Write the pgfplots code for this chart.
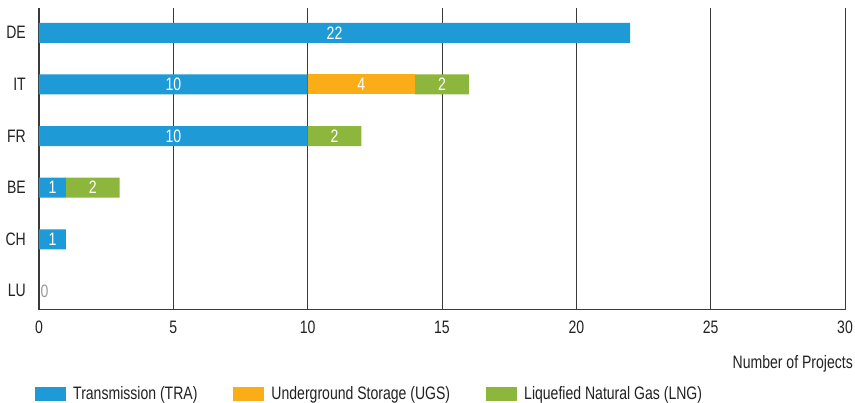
\documentclass[border=0pt]{standalone}
\usepackage{fontspec}
\setmainfont{Liberation Sans}[FakeStretch=0.78]
\usepackage{pgfplots}
\pgfplotsset{compat=1.18}

\definecolor{tra}{HTML}{1E9BD7}
\definecolor{ugs}{HTML}{FBAD18}
\definecolor{lng}{HTML}{8CB63C}
\definecolor{gridc}{HTML}{3A3A3A}
\definecolor{txt}{HTML}{222222}

\newcommand{\chartfont}{\fontsize{18}{20}\selectfont}

\begin{document}
\chartfont
\begin{tikzpicture}
\path[use as bounding box] (-39pt,-93pt) rectangle (816pt,310pt);
\begin{axis}[
    scale only axis,
    width=806pt, height=302pt,
    xbar stacked,
    bar width=20pt,
    xmin=0, xmax=30,
    ymin=-0.37, ymax=5.48,
    xtick={0,5,...,30},
    ytick={0,...,5},
    yticklabels={LU,CH,BE,FR,IT,DE},
    axis x line=bottom,
    axis y line=left,
    axis line style={gridc, line width=1pt, -},
    xmajorgrids,
    grid style={gridc, line width=0.8pt},
    major tick length=0pt,
    /pgf/number format/assume math mode=true,
    tick label style={font=\chartfont, text=txt},
    xticklabel style={yshift=-5pt},
    yticklabel style={xshift=-7pt},
    xlabel={Number of Projects},
    xlabel style={at={(rel axis cs:1,0)}, anchor=north east, xshift=14pt, yshift=-39pt,
        font=\chartfont, text=txt},
    legend columns=3,
    legend style={at={(0,0)}, anchor=west, xshift=-4pt, yshift=-84pt,
        draw=none, inner sep=0pt, font=\chartfont, text=txt,
        /tikz/every odd column/.append style={column sep=5pt},
        /tikz/every even column/.append style={column sep=34pt}},
    legend cell align=left,
    legend image code/.code={\fill[#1] (0pt,-7pt) rectangle (31pt,7pt);},
    nodes near coords,
    point meta=explicit symbolic,
    every node near coord/.style={anchor=center, text=white, font=\chartfont},
]
\addplot[fill=tra, draw=none] coordinates {(0,0) [{}] (1,1) [1] (1,2) [1] (10,3) [10] (10,4) [10] (22,5) [22]};
\addplot[fill=ugs, draw=none] coordinates {(0,0) [{}] (0,1) [{}] (0,2) [{}] (0,3) [{}] (4,4) [4] (0,5) [{}]};
\addplot[fill=lng, draw=none] coordinates {(0,0) [{}] (0,1) [{}] (2,2) [2] (2,3) [2] (2,4) [2] (0,5) [{}]};
\legend{Transmission (TRA),Underground Storage (UGS),Liquefied Natural Gas (LNG)}

% the zero for LU, just right of the axis
\addplot[stack plots=false, forget plot, sharp plot, draw=none, mark=none,
    every node near coord/.style={anchor=west, text=gray!80, inner sep=1.5pt, font=\chartfont}]
    coordinates {(0,0) [0]};
\end{axis}
\end{tikzpicture}
\end{document}
